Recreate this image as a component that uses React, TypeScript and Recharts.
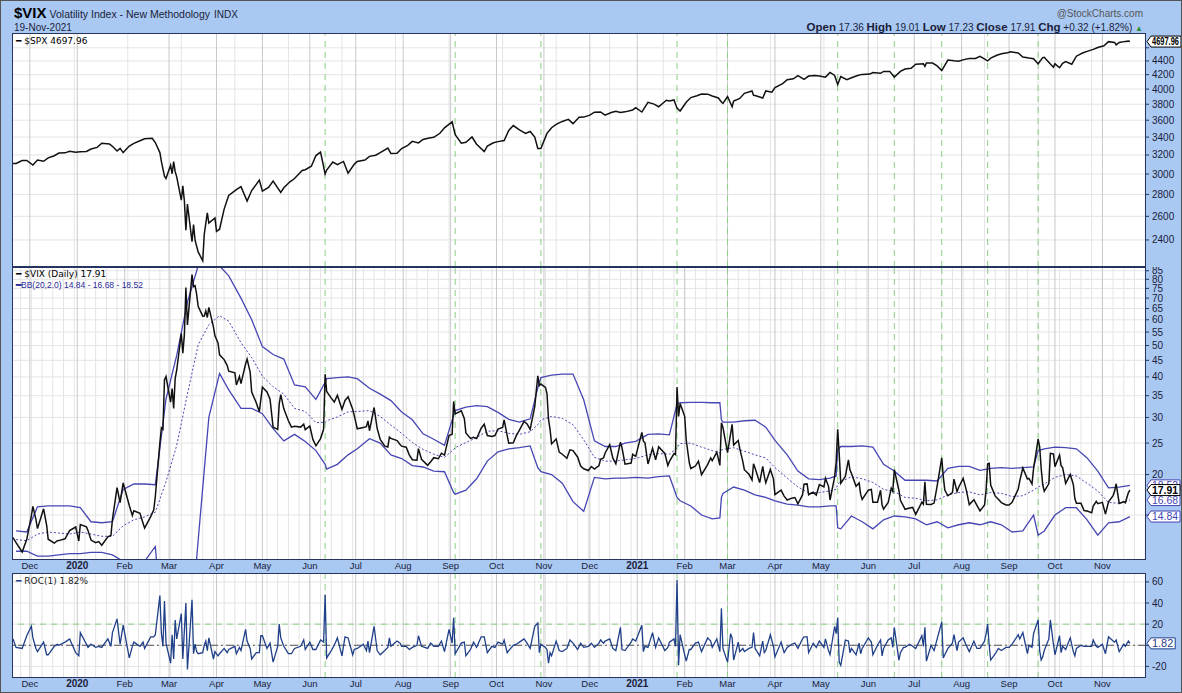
import { CartesianGrid, Line, LineChart, ReferenceLine, XAxis, YAxis } from "recharts";

// ---- data ----

const spxDates = [
  "2019-11-20", "2019-11-22", "2019-11-26", "2019-11-29",
  "2019-12-03", "2019-12-06", "2019-12-10", "2019-12-13", "2019-12-17", "2019-12-20", "2019-12-24", "2019-12-27", "2019-12-31",
  "2020-01-03", "2020-01-07", "2020-01-10", "2020-01-14", "2020-01-17", "2020-01-22", "2020-01-24", "2020-01-27", "2020-01-29", "2020-01-31",
  "2020-02-04", "2020-02-07", "2020-02-11", "2020-02-14", "2020-02-19", "2020-02-21", "2020-02-24", "2020-02-25", "2020-02-27", "2020-02-28",
  "2020-03-02", "2020-03-03", "2020-03-04", "2020-03-05", "2020-03-06", "2020-03-09", "2020-03-10", "2020-03-11", "2020-03-12", "2020-03-13", "2020-03-16", "2020-03-17", "2020-03-18", "2020-03-20", "2020-03-23", "2020-03-24", "2020-03-26", "2020-03-27", "2020-03-31",
  "2020-04-01", "2020-04-03", "2020-04-06", "2020-04-08", "2020-04-09", "2020-04-14", "2020-04-17", "2020-04-21", "2020-04-24", "2020-04-29",
  "2020-05-01", "2020-05-05", "2020-05-08", "2020-05-13", "2020-05-15", "2020-05-19", "2020-05-22", "2020-05-27", "2020-05-29",
  "2020-06-02", "2020-06-05", "2020-06-08", "2020-06-11", "2020-06-12", "2020-06-16", "2020-06-19", "2020-06-23", "2020-06-26", "2020-06-30",
  "2020-07-02", "2020-07-07", "2020-07-10", "2020-07-14", "2020-07-17", "2020-07-22", "2020-07-24", "2020-07-28", "2020-07-31",
  "2020-08-04", "2020-08-07", "2020-08-11", "2020-08-14", "2020-08-18", "2020-08-21", "2020-08-25", "2020-08-28",
  "2020-09-02", "2020-09-04", "2020-09-08", "2020-09-11", "2020-09-15", "2020-09-18", "2020-09-23", "2020-09-25", "2020-09-29",
  "2020-10-02", "2020-10-06", "2020-10-09", "2020-10-12", "2020-10-16", "2020-10-20", "2020-10-23", "2020-10-26", "2020-10-28", "2020-10-30",
  "2020-11-03", "2020-11-06", "2020-11-09", "2020-11-13", "2020-11-17", "2020-11-20", "2020-11-24", "2020-11-27",
  "2020-12-01", "2020-12-04", "2020-12-08", "2020-12-11", "2020-12-15", "2020-12-18", "2020-12-21", "2020-12-24", "2020-12-29", "2020-12-31",
  "2021-01-04", "2021-01-08", "2021-01-12", "2021-01-15", "2021-01-20", "2021-01-22", "2021-01-25", "2021-01-27", "2021-01-29",
  "2021-02-02", "2021-02-05", "2021-02-09", "2021-02-12", "2021-02-16", "2021-02-19", "2021-02-23", "2021-02-25", "2021-02-26",
  "2021-03-01", "2021-03-04", "2021-03-05", "2021-03-09", "2021-03-12", "2021-03-17", "2021-03-18", "2021-03-19", "2021-03-24", "2021-03-26", "2021-03-30",
  "2021-04-01", "2021-04-06", "2021-04-09", "2021-04-13", "2021-04-16", "2021-04-20", "2021-04-23", "2021-04-27", "2021-04-30",
  "2021-05-04", "2021-05-07", "2021-05-10", "2021-05-12", "2021-05-14", "2021-05-18", "2021-05-21", "2021-05-25", "2021-05-28",
  "2021-06-02", "2021-06-04", "2021-06-09", "2021-06-11", "2021-06-15", "2021-06-18", "2021-06-22", "2021-06-25", "2021-06-29",
  "2021-07-02", "2021-07-07", "2021-07-08", "2021-07-09", "2021-07-13", "2021-07-16", "2021-07-19", "2021-07-23", "2021-07-27", "2021-07-30",
  "2021-08-03", "2021-08-06", "2021-08-10", "2021-08-13", "2021-08-18", "2021-08-20", "2021-08-24", "2021-08-27", "2021-08-31",
  "2021-09-02", "2021-09-07", "2021-09-10", "2021-09-14", "2021-09-17", "2021-09-20", "2021-09-23", "2021-09-24", "2021-09-28", "2021-09-30",
  "2021-10-01", "2021-10-04", "2021-10-06", "2021-10-08", "2021-10-12", "2021-10-15", "2021-10-19", "2021-10-22", "2021-10-26", "2021-10-29",
  "2021-11-02", "2021-11-05", "2021-11-09", "2021-11-10", "2021-11-12", "2021-11-16", "2021-11-18", "2021-11-19",
];
const spxClose = [
  3108, 3110, 3140, 3141,
  3093, 3146, 3133, 3169, 3192, 3221, 3223, 3240, 3231,
  3235, 3238, 3265, 3283, 3330, 3321, 3295, 3244, 3273, 3226,
  3298, 3328, 3358, 3380, 3386, 3338, 3226, 3128, 2979, 2954,
  3091, 3003, 3130, 3024, 2972, 2747, 2882, 2741, 2481, 2711, 2386, 2529, 2398, 2305, 2237, 2447, 2630, 2541, 2585,
  2470, 2489, 2664, 2750, 2790, 2846, 2875, 2737, 2837, 2939,
  2831, 2868, 2930, 2820, 2864, 2922, 2955, 3036, 3044,
  3081, 3194, 3232, 3002, 3041, 3125, 3098, 3131, 3009, 3100,
  3130, 3145, 3185, 3197, 3225, 3276, 3216, 3218, 3271,
  3306, 3351, 3333, 3373, 3390, 3397, 3444, 3508,
  3580, 3427, 3331, 3341, 3401, 3319, 3237, 3298, 3335,
  3348, 3361, 3477, 3535, 3484, 3443, 3465, 3401, 3271, 3270,
  3443, 3510, 3550, 3585, 3610, 3558, 3635, 3638,
  3662, 3699, 3702, 3663, 3695, 3709, 3694, 3703, 3727, 3756,
  3701, 3825, 3801, 3768, 3852, 3841, 3855, 3750, 3714,
  3826, 3887, 3911, 3934, 3932, 3907, 3881, 3829, 3811,
  3901, 3768, 3842, 3875, 3943, 3975, 3915, 3913, 3881, 3975, 3959,
  4020, 4074, 4129, 4142, 4185, 4135, 4180, 4187, 4181,
  4165, 4233, 4189, 4063, 4174, 4128, 4156, 4188, 4204,
  4208, 4230, 4220, 4247, 4247, 4166, 4246, 4281, 4291,
  4352, 4358, 4320, 4370, 4369, 4327, 4258, 4412, 4401, 4395,
  4423, 4437, 4436, 4468, 4400, 4442, 4486, 4509, 4523,
  4537, 4520, 4459, 4443, 4433, 4358, 4449, 4455, 4353, 4308,
  4357, 4300, 4364, 4391, 4351, 4471, 4520, 4545, 4575, 4605,
  4631, 4697, 4685, 4646, 4683, 4701, 4705, 4698,
];

const vixDates = [
  "2019-11-20", "2019-11-22", "2019-11-26", "2019-11-29",
  "2019-12-02", "2019-12-03", "2019-12-05", "2019-12-06", "2019-12-10", "2019-12-12", "2019-12-13", "2019-12-17", "2019-12-19", "2019-12-20", "2019-12-24", "2019-12-27", "2019-12-31",
  "2020-01-02", "2020-01-03", "2020-01-07", "2020-01-08", "2020-01-10", "2020-01-13", "2020-01-15", "2020-01-17", "2020-01-21", "2020-01-23", "2020-01-24", "2020-01-27", "2020-01-29", "2020-01-31",
  "2020-02-04", "2020-02-06", "2020-02-07", "2020-02-11", "2020-02-13", "2020-02-14", "2020-02-18", "2020-02-20", "2020-02-21", "2020-02-24", "2020-02-25", "2020-02-26", "2020-02-27", "2020-02-28",
  "2020-03-02", "2020-03-03", "2020-03-04", "2020-03-05", "2020-03-06", "2020-03-09", "2020-03-10", "2020-03-11", "2020-03-12", "2020-03-13", "2020-03-16", "2020-03-17", "2020-03-18", "2020-03-19", "2020-03-20", "2020-03-23", "2020-03-24", "2020-03-25", "2020-03-26", "2020-03-27", "2020-03-30", "2020-03-31",
  "2020-04-02", "2020-04-03", "2020-04-06", "2020-04-08", "2020-04-09", "2020-04-13", "2020-04-14", "2020-04-16", "2020-04-17", "2020-04-20", "2020-04-21", "2020-04-23", "2020-04-24", "2020-04-27", "2020-04-29", "2020-04-30",
  "2020-05-01", "2020-05-04", "2020-05-06", "2020-05-08", "2020-05-11", "2020-05-12", "2020-05-13", "2020-05-15", "2020-05-18", "2020-05-20", "2020-05-22", "2020-05-26", "2020-05-28", "2020-05-29",
  "2020-06-01", "2020-06-03", "2020-06-05", "2020-06-08", "2020-06-10", "2020-06-11", "2020-06-12", "2020-06-15", "2020-06-17", "2020-06-19", "2020-06-22", "2020-06-24", "2020-06-26", "2020-06-29", "2020-06-30",
  "2020-07-02", "2020-07-06", "2020-07-08", "2020-07-09", "2020-07-10", "2020-07-13", "2020-07-15", "2020-07-17", "2020-07-20", "2020-07-22", "2020-07-23", "2020-07-24", "2020-07-28", "2020-07-30", "2020-07-31",
  "2020-08-03", "2020-08-05", "2020-08-07", "2020-08-10", "2020-08-11", "2020-08-13", "2020-08-17", "2020-08-19", "2020-08-21", "2020-08-24", "2020-08-26", "2020-08-28", "2020-08-31",
  "2020-09-02", "2020-09-03", "2020-09-04", "2020-09-08", "2020-09-10", "2020-09-11", "2020-09-14", "2020-09-16", "2020-09-18", "2020-09-21", "2020-09-23", "2020-09-25", "2020-09-28", "2020-09-30",
  "2020-10-02", "2020-10-05", "2020-10-06", "2020-10-08", "2020-10-09", "2020-10-12", "2020-10-14", "2020-10-16", "2020-10-19", "2020-10-21", "2020-10-23", "2020-10-26", "2020-10-28", "2020-10-29", "2020-10-30",
  "2020-11-02", "2020-11-03", "2020-11-04", "2020-11-05", "2020-11-06", "2020-11-09", "2020-11-11", "2020-11-13", "2020-11-16", "2020-11-18", "2020-11-20", "2020-11-23", "2020-11-25", "2020-11-27", "2020-11-30",
  "2020-12-02", "2020-12-04", "2020-12-07", "2020-12-08", "2020-12-10", "2020-12-11", "2020-12-14", "2020-12-16", "2020-12-18", "2020-12-21", "2020-12-22", "2020-12-24", "2020-12-28", "2020-12-29", "2020-12-31",
  "2021-01-04", "2021-01-05", "2021-01-06", "2021-01-08", "2021-01-11", "2021-01-13", "2021-01-15", "2021-01-19", "2021-01-21", "2021-01-22", "2021-01-25", "2021-01-26", "2021-01-27", "2021-01-28", "2021-01-29",
  "2021-02-01", "2021-02-02", "2021-02-04", "2021-02-05", "2021-02-08", "2021-02-10", "2021-02-12", "2021-02-16", "2021-02-18", "2021-02-19", "2021-02-22", "2021-02-24", "2021-02-25", "2021-02-26",
  "2021-03-01", "2021-03-03", "2021-03-04", "2021-03-05", "2021-03-08", "2021-03-09", "2021-03-11", "2021-03-12", "2021-03-15", "2021-03-17", "2021-03-18", "2021-03-19", "2021-03-22", "2021-03-24", "2021-03-25", "2021-03-26", "2021-03-29", "2021-03-31",
  "2021-04-01", "2021-04-05", "2021-04-07", "2021-04-09", "2021-04-12", "2021-04-14", "2021-04-16", "2021-04-19", "2021-04-20", "2021-04-22", "2021-04-23", "2021-04-26", "2021-04-28", "2021-04-30",
  "2021-05-03", "2021-05-04", "2021-05-06", "2021-05-07", "2021-05-10", "2021-05-11", "2021-05-12", "2021-05-13", "2021-05-14", "2021-05-17", "2021-05-19", "2021-05-20", "2021-05-21", "2021-05-24", "2021-05-26", "2021-05-27", "2021-05-28",
  "2021-06-01", "2021-06-03", "2021-06-04", "2021-06-07", "2021-06-09", "2021-06-10", "2021-06-11", "2021-06-14", "2021-06-16", "2021-06-17", "2021-06-18", "2021-06-21", "2021-06-22", "2021-06-24", "2021-06-25", "2021-06-28", "2021-06-30",
  "2021-07-02", "2021-07-06", "2021-07-07", "2021-07-08", "2021-07-09", "2021-07-12", "2021-07-14", "2021-07-16", "2021-07-19", "2021-07-20", "2021-07-21", "2021-07-23", "2021-07-26", "2021-07-27", "2021-07-29", "2021-07-30",
  "2021-08-02", "2021-08-04", "2021-08-06", "2021-08-09", "2021-08-11", "2021-08-13", "2021-08-16", "2021-08-17", "2021-08-18", "2021-08-19", "2021-08-20", "2021-08-23", "2021-08-25", "2021-08-27", "2021-08-30",
  "2021-09-01", "2021-09-03", "2021-09-07", "2021-09-08", "2021-09-10", "2021-09-13", "2021-09-14", "2021-09-16", "2021-09-17", "2021-09-20", "2021-09-21", "2021-09-22", "2021-09-23", "2021-09-24", "2021-09-27", "2021-09-28", "2021-09-30",
  "2021-10-01", "2021-10-04", "2021-10-05", "2021-10-06", "2021-10-08", "2021-10-11", "2021-10-13", "2021-10-14", "2021-10-15", "2021-10-18", "2021-10-20", "2021-10-22", "2021-10-25", "2021-10-26", "2021-10-28", "2021-10-29",
  "2021-11-01", "2021-11-03", "2021-11-05", "2021-11-08", "2021-11-09", "2021-11-10", "2021-11-12", "2021-11-15", "2021-11-16", "2021-11-18", "2021-11-19",
];
const vixClose = [
  12.78, 12.34, 11.54, 12.62,
  14.91, 15.96, 14.52, 13.62, 15.68, 13.94, 12.63, 12.29, 12.5, 12.51, 12.67, 13.43, 13.78,
  12.47, 14.02, 13.79, 13.45, 12.56, 12.32, 12.42, 12.1, 12.85, 12.98, 14.56, 18.23, 16.39, 18.84,
  16.05, 14.96, 15.47, 15.18, 14.15, 13.68, 14.83, 15.56, 17.08, 25.03, 27.85, 27.56, 39.16, 40.11,
  33.42, 36.82, 31.99, 39.62, 41.94, 54.46, 47.3, 53.9, 75.47, 57.83, 82.69, 75.91, 76.45, 72.0, 66.04, 61.59, 61.67, 63.95, 61.0, 65.54, 57.08, 53.54,
  50.91, 46.8, 45.24, 43.35, 41.67, 41.17, 37.76, 40.11, 38.15, 43.83, 45.41, 41.38, 35.93, 33.29, 31.23, 34.15,
  37.19, 35.97, 34.12, 27.98, 27.57, 33.04, 35.28, 31.89, 29.3, 27.99, 28.16, 28.01, 28.59, 27.51,
  28.23, 25.66, 24.52, 25.81, 27.57, 40.79, 36.09, 34.4, 33.47, 35.12, 31.77, 33.84, 34.73, 31.78, 30.43,
  27.68, 27.94, 28.08, 29.26, 27.29, 32.19, 27.76, 25.68, 24.46, 24.32, 26.08, 25.84, 25.44, 24.76, 24.46,
  24.28, 22.99, 22.21, 22.13, 24.03, 22.28, 21.35, 21.9, 22.54, 22.37, 23.27, 22.96, 26.41,
  26.57, 33.6, 30.75, 31.46, 29.71, 26.87, 25.85, 26.04, 25.83, 27.78, 28.58, 26.38, 26.19, 26.37,
  27.63, 27.96, 29.48, 26.36, 25.0, 25.07, 26.4, 27.41, 29.18, 28.65, 27.55, 32.46, 40.28, 37.59, 38.02,
  37.13, 35.55, 29.57, 27.58, 24.86, 25.75, 23.45, 23.1, 22.45, 23.84, 23.7, 22.66, 21.25, 20.84, 20.57,
  21.17, 20.79, 21.3, 22.27, 22.52, 23.31, 24.72, 22.5, 21.57, 25.16, 24.23, 21.53, 21.7, 23.08, 22.75,
  26.97, 25.34, 25.07, 21.56, 24.08, 22.21, 24.34, 23.24, 21.32, 21.91, 23.19, 23.02, 37.21, 30.21, 33.09,
  30.24, 25.56, 21.77, 20.87, 21.24, 21.99, 19.97, 21.46, 22.49, 22.05, 23.45, 21.34, 28.89, 27.95,
  23.35, 26.67, 28.57, 24.66, 25.47, 24.03, 21.91, 20.69, 20.03, 19.23, 21.58, 20.95, 18.88, 21.2, 19.81, 18.86, 20.74, 19.4,
  17.33, 17.91, 17.16, 16.69, 16.91, 16.99, 16.25, 17.3, 18.68, 18.71, 17.33, 17.64, 17.28, 18.61,
  18.31, 19.48, 18.39, 16.69, 19.66, 21.84, 27.59, 23.13, 18.81, 19.72, 22.18, 20.67, 20.15, 18.4, 18.84, 17.36, 16.76,
  17.9, 17.99, 16.42, 16.42, 17.89, 16.1, 15.65, 16.39, 18.15, 17.75, 20.7, 17.89, 16.66, 15.97, 15.62, 15.76, 15.83,
  15.07, 16.44, 16.2, 19.0, 16.18, 16.17, 16.33, 18.45, 22.5, 19.73, 17.91, 17.2, 17.58, 19.36, 17.7, 18.24,
  19.46, 17.97, 16.15, 16.72, 16.06, 15.45, 16.12, 17.91, 21.57, 21.67, 18.56, 17.15, 16.79, 16.39, 16.11,
  16.11, 16.41, 18.03, 19.13, 20.95, 19.37, 19.46, 18.69, 20.81, 25.71, 24.36, 20.87, 18.63, 17.75, 18.76, 23.25, 23.14,
  21.15, 22.96, 21.3, 21.0, 18.77, 20.0, 18.64, 16.86, 16.3, 16.3, 15.49, 15.43, 15.24, 15.98, 16.53, 16.26,
  16.41, 15.1, 16.48, 17.22, 17.78, 18.73, 16.29, 16.49, 16.37, 17.59, 17.91,
];
// daily rate of change of $VIX (%), same dates as vixDates
const rocPct = [
  6, -2, -3, 9,
  18, 7, -3, -6, 3, -9, -9, -1, 1, 0, 3, 6, -7,
  -10, 12, 1, -2, 1, -2, -1, -2, 6, -1, 12, 25, 1, 19,
  -12, -1, 3, -1, 3, -3, 8, 8, 10, 47, 11, -1, 42, 2,
  -17, 10, -13, 24, 6, 30, -13, 14, 40, -23, 43, -8, 1, -6, -8, -7, 0, 4, -5, 7, -13, -6,
  -10, -8, -3, -7, -4, -1, -8, -2, -5, 15, 4, -3, -13, -7, -7, 9,
  9, -3, 2, -16, -1, 20, 7, -1, -8, -8, -3, -1, 5, -4,
  3, -4, -4, 5, 3, 48, -12, -5, 0, 7, -10, 8, 7, -9, -4,
  -3, 1, -5, 4, -7, 18, -5, -9, -5, -2, 7, -1, 4, 2, -1,
  -1, -4, -2, 0, 9, -1, -3, 2, -1, -1, 4, -6, 15,
  2, 26, -8, 2, 3, -10, -4, 3, -2, 8, 8, -7, -1, -2,
  3, 1, 5, -7, -5, 0, 1, 3, 6, 2, -3, 18, 21, -7, 1,
  -2, -4, -17, -7, -10, 4, -5, -6, -3, 5, 2, -4, 2, -2, -1,
  2, -2, 2, 5, 2, 4, 6, -3, -5, 17, -4, -5, 3, 6, 4,
  19, -6, -1, -2, 12, -2, 7, -5, -2, 3, 6, -1, 62, -19, 10,
  -9, -15, -4, -4, 2, 3, -6, 7, 4, -2, 6, -6, 35, -3,
  -16, 11, 7, -14, 3, -6, -3, -6, -3, -2, 12, -3, -10, 4, -7, -5, 10, -1,
  -11, 3, -7, -2, 1, 2, -3, 6, 8, 8, -7, 2, -2, 4,
  -2, 6, -5, -9, 18, 11, 26, -16, -19, 5, 4, -7, -3, -9, 2, -8, -3,
  7, 3, -9, 0, 5, -10, -3, 5, 7, -2, 17, -14, -7, -2, -2, 1, -1,
  -3, 9, -1, 17, -15, 0, -5, 6, 22, -12, -9, -3, 2, 10, -5, 3,
  7, 0, -6, 4, -3, -3, 4, 11, 20, 0, -14, -8, -3, -5, -2,
  -2, 1, 10, 6, 12, -8, 0, -2, 11, 24, -5, -14, -11, -5, 6, 24, 1,
  -9, 9, -7, -1, -4, 7, -6, -10, -3, 0, -1, -1, -1, 5, -1, -2,
  1, -8, 8, 4, 3, 5, -6, 1, -1, 4, 1.82,
];

// Bollinger Bands (20, 2.0); 5 = below the visible axis
const bbDates = [
  "2019-11-22", "2019-11-29", "2019-12-06", "2019-12-13", "2019-12-20", "2019-12-27",
  "2020-01-03", "2020-01-10", "2020-01-17", "2020-01-24", "2020-01-31", "2020-02-07", "2020-02-14", "2020-02-21", "2020-02-28",
  "2020-03-06", "2020-03-13", "2020-03-20", "2020-03-27", "2020-04-03", "2020-04-09", "2020-04-17", "2020-04-24",
  "2020-05-01", "2020-05-08", "2020-05-15", "2020-05-22", "2020-05-29", "2020-06-05", "2020-06-11", "2020-06-12", "2020-06-19", "2020-06-26",
  "2020-07-02", "2020-07-10", "2020-07-17", "2020-07-24", "2020-07-31", "2020-08-07", "2020-08-14", "2020-08-21", "2020-08-28",
  "2020-09-03", "2020-09-04", "2020-09-11", "2020-09-18", "2020-09-25", "2020-10-02", "2020-10-09", "2020-10-16", "2020-10-23", "2020-10-28", "2020-10-30",
  "2020-11-06", "2020-11-13", "2020-11-20", "2020-11-27", "2020-12-04", "2020-12-11", "2020-12-18", "2020-12-24", "2020-12-31",
  "2021-01-08", "2021-01-15", "2021-01-22", "2021-01-27", "2021-01-29", "2021-02-05", "2021-02-12", "2021-02-19", "2021-02-24", "2021-02-25", "2021-02-26",
  "2021-03-05", "2021-03-12", "2021-03-19", "2021-03-26", "2021-04-01", "2021-04-09", "2021-04-16", "2021-04-23", "2021-04-30",
  "2021-05-07", "2021-05-11", "2021-05-12", "2021-05-14", "2021-05-21", "2021-05-28", "2021-06-04", "2021-06-11", "2021-06-18", "2021-06-25",
  "2021-07-02", "2021-07-09", "2021-07-16", "2021-07-23", "2021-07-30", "2021-08-06", "2021-08-13", "2021-08-20", "2021-08-27",
  "2021-09-03", "2021-09-10", "2021-09-17", "2021-09-20", "2021-09-24", "2021-10-01", "2021-10-08", "2021-10-15", "2021-10-22", "2021-10-29",
  "2021-11-05", "2021-11-12", "2021-11-19",
];
const bbUpper = [
  13.4, 13.3, 15.9, 16.0, 16.0, 16.0,
  15.8, 14.3, 14.2, 14.3, 18.0, 18.7, 18.7, 18.6, 34.2,
  46.6, 68.0, 88.0, 95.0, 88.0, 82.0, 70.0, 60.0,
  49.6, 46.9, 45.4, 37.8, 37.3, 34.1, 38.5, 39.5, 39.8, 40.0,
  39.5, 36.9, 35.4, 33.8, 31.2, 29.5, 26.7, 25.7, 24.6,
  30.5, 31.5, 32.3, 32.6, 32.4, 31.1, 29.6, 29.0, 29.7, 37.0, 39.8,
  40.5, 40.8, 40.8, 34.0, 25.4, 24.4, 24.4, 25.0, 25.3,
  26.6, 26.7, 26.5, 33.0, 33.3, 33.4, 33.4, 33.3, 33.3, 29.5, 29.0,
  29.0, 29.3, 29.4, 28.0, 25.5, 23.0, 20.5, 19.4, 19.3,
  19.5, 19.8, 23.8, 24.4, 24.4, 24.5, 24.3, 21.5, 20.5, 19.2,
  19.2, 19.2, 19.1, 20.9, 21.2, 21.2, 20.6, 20.9, 21.0,
  20.9, 21.0, 21.1, 23.7, 24.0, 24.3, 24.2, 24.0, 22.5, 20.5,
  18.2, 18.3, 18.52,
];
const bbMiddle = [
  12.6, 12.5, 13.1, 13.3, 13.2, 13.1,
  13.3, 13.1, 12.9, 12.9, 13.9, 14.5, 14.8, 15.3, 19.0,
  24.6, 35.4, 50.2, 58.0, 61.8, 59.4, 51.0, 45.9,
  40.2, 37.3, 35.4, 32.0, 31.3, 28.9, 29.0, 29.3, 30.1, 31.2,
  31.3, 31.5, 30.2, 28.4, 26.8, 25.1, 23.9, 23.1, 22.6,
  23.9, 24.2, 25.1, 26.0, 27.2, 27.3, 26.8, 26.6, 27.1, 28.5, 29.5,
  30.2, 29.8, 28.5, 25.6, 22.6, 22.0, 22.0, 22.2, 22.4,
  23.0, 23.2, 23.1, 24.2, 24.9, 25.0, 24.3, 23.7, 23.3, 23.8, 23.9,
  24.2, 23.6, 23.0, 22.5, 21.0, 19.5, 18.3, 17.6, 17.6,
  17.8, 18.0, 18.7, 19.0, 19.7, 19.4, 18.9, 18.0, 17.7, 17.0,
  16.9, 16.6, 16.7, 17.3, 17.6, 17.7, 17.3, 17.6, 17.5,
  17.1, 17.2, 17.9, 18.3, 18.7, 19.6, 20.0, 19.8, 18.8, 17.8,
  16.4, 16.3, 16.68,
];
const bbLower = [
  11.6, 11.6, 11.2, 11.2, 11.3, 11.4,
  11.4, 11.5, 11.5, 11.3, 10.8, 10.6, 10.8, 12.0, 5,
  5, 5, 12.5, 30.0, 41.0, 36.5, 32.0, 32.0,
  30.8, 27.7, 25.4, 26.6, 25.3, 23.7, 21.5, 20.8, 21.5, 23.0,
  24.0, 25.8, 25.0, 23.0, 22.4, 21.3, 21.1, 20.5, 20.4,
  17.6, 17.4, 17.9, 19.4, 22.0, 23.5, 24.0, 24.2, 24.5, 21.0, 20.4,
  20.0, 18.8, 16.5, 15.4, 19.6, 19.4, 19.5, 19.5, 19.6,
  19.5, 19.7, 19.8, 17.0, 16.6, 16.0, 15.0, 14.6, 14.7, 17.0, 17.5,
  18.3, 17.9, 17.3, 17.0, 16.6, 16.2, 16.1, 15.9, 15.9,
  16.0, 16.0, 13.7, 13.6, 14.9, 14.3, 13.6, 14.5, 14.9, 14.8,
  14.6, 14.0, 14.3, 13.7, 14.0, 14.2, 14.0, 14.3, 14.0,
  13.3, 13.4, 15.0, 13.0, 13.4, 15.0, 15.8, 15.8, 14.5, 13.0,
  14.2, 14.3, 14.84,
];

const monthTicks = [
  "2019-12-01", "2020-01-01", "2020-02-01", "2020-03-01", "2020-04-01", "2020-05-01", "2020-06-01",
  "2020-07-01", "2020-08-01", "2020-09-01", "2020-10-01", "2020-11-01", "2020-12-01", "2021-01-01",
  "2021-02-01", "2021-03-01", "2021-04-01", "2021-05-01", "2021-06-01", "2021-07-01", "2021-08-01",
  "2021-09-01", "2021-10-01", "2021-11-01",
];
const monthLabels = [
  "Dec", "2020", "Feb", "Mar", "Apr", "May", "Jun", "Jul", "Aug", "Sep", "Oct", "Nov", "Dec", "2021",
  "Feb", "Mar", "Apr", "May", "Jun", "Jul", "Aug", "Sep", "Oct", "Nov",
];
// green dashed event markers
const signalDates = [
  "2020-06-11", "2020-09-04", "2020-10-30", "2021-01-27", "2021-03-01",
  "2021-05-12", "2021-06-18", "2021-07-19", "2021-08-18", "2021-09-20",
];
const spxTicks = [2400, 2600, 2800, 3000, 3200, 3400, 3600, 3800, 4000, 4200, 4400, 4600];
const vixTicks = [15, 20, 25, 30, 35, 40, 45, 50, 55, 60, 65, 70, 75, 80, 85];
const rocTicks = [-20, 0, 20, 40, 60];

// tick labels sitting under a value tag are not printed
const spxHidden = [4600];
const vixHidden = [15];
const rocHidden = [0];

// ---- helpers ----

const toDay = (s: string) =>
  Date.UTC(+s.slice(0, 4), +s.slice(5, 7) - 1, +s.slice(8, 10)) / 86400000;

const START = toDay("2019-11-20");
const X_DOMAIN: [number, number] = [START, START + 740.5];

const spxData = spxDates.map((d, i) => ({ t: toDay(d), v: spxClose[i] }));
const vixData = vixDates.map((d, i) => ({ t: toDay(d), v: vixClose[i] }));
const rocData = vixDates.map((d, i) => ({ t: toDay(d), v: rocPct[i] }));
const bbData = bbDates.map((d, i) => ({
  t: toDay(d),
  up: bbUpper[i],
  mid: bbMiddle[i],
  low: bbLower[i],
}));
const monthT = monthTicks.map(toDay);

const weekGrid: number[] = [];
for (let t = toDay("2019-11-25"); t < X_DOMAIN[1]; t += 7) weekGrid.push(t);

const BG = "#a9c9f3";
const FRAME = "#27345f";
const TXT = "#1b1d3a";
const BB = "#4646b4";
const ROC = "#1f3f88";
const GREEN = "#8cce84";
const NARROW = '"Liberation Sans Narrow", "Arial Narrow", "Liberation Sans", Arial, sans-serif';
const LEG = '"DejaVu Sans", Verdana, sans-serif';

const AXIS_W = 37;
const LEFT = 12;

const yTick = (hidden: number[]) => (props: any) => {
  const { x, y, payload } = props;
  if (hidden.includes(payload.value)) return <g />;
  return (
    <text x={x + 1} y={y + 3.5} fontSize={10} fontFamily={NARROW} fill={TXT}>
      {payload.value}
    </text>
  );
};

const MonthTick = (props: any) => {
  const { x, y, payload } = props;
  const i = monthT.indexOf(payload.value);
  const label = monthLabels[i] ?? "";
  const bold = /^\d{4}$/.test(label);
  return (
    <text
      x={x}
      y={y + 7}
      textAnchor="middle"
      fontSize={bold ? 10 : 9.5}
      fontWeight={bold ? 700 : 400}
      fontFamily={NARROW}
      fill={TXT}
    >
      {label}
    </text>
  );
};

// price tag at the right edge, placed through the y scale of a ReferenceLine
const valueTag =
  (text: string, color: string, bold = false) =>
  (props: any) => {
    const vb = props.viewBox;
    if (!vb) return null;
    const x = vb.x + vb.width + 1;
    const y = vb.y;
    const w = Math.min(text.length * 4.8 + 9, 1180 - x);
    const h = 11;
    return (
      <g>
        <path
          d={`M${x},${y} L${x + 4},${y - h / 2} L${x + w},${y - h / 2} L${x + w},${y + h / 2} L${x + 4},${y + h / 2} Z`}
          fill="#fff"
          stroke={color}
          strokeWidth={1}
        />
        <text
          x={x + 5}
          y={y + 3.8}
          fontSize={10}
          fontWeight={bold ? 700 : 400}
          fontFamily={NARROW}
          fill={color}
          textLength={w - 7}
          lengthAdjust="spacingAndGlyphs"
        >
          {text}
        </text>
      </g>
    );
  };

function Grids({ yTicks }: { yTicks: number[] }) {
  return (
    <>
      <CartesianGrid
        fill="#fff"
        stroke="#e4e4e4"
        verticalValues={weekGrid}
        horizontalValues={yTicks}
      />
      <CartesianGrid stroke="#c9c9c9" horizontal={false} verticalValues={monthT} />
    </>
  );
}

const signals = signalDates.map((d) => (
  <ReferenceLine key={d} x={toDay(d)} stroke={GREEN} strokeDasharray="6 5" strokeWidth={1} />
));

const Frame = ({ top, height, thickTop }: { top: number; height: number; thickTop?: boolean }) => (
  <div
    style={{
      position: "absolute",
      left: LEFT - 1,
      top: top - 1,
      width: 1182 - AXIS_W - LEFT + 1,
      height: height + 1,
      borderLeft: `1px solid ${FRAME}`,
      borderRight: `1px solid ${FRAME}`,
      borderBottom: `1px solid ${FRAME}`,
      borderTop: `${thickTop ? 2 : 1}px solid ${FRAME}`,
      boxSizing: "border-box",
      pointerEvents: "none",
    }}
  />
);

export default function App() {
  return (
    <div
      style={{
        position: "absolute",
        left: 0,
        top: 0,
        width: 1182,
        height: 693,
        background: BG,
        border: "1px solid #555",
        boxSizing: "border-box",
        overflow: "hidden",
        fontFamily: NARROW,
        color: TXT,
      }}
    >
      {/* header */}
      <div style={{ position: "absolute", left: 13, top: 5, whiteSpace: "nowrap", lineHeight: "14px" }}>
        <span style={{ fontSize: 15, fontWeight: 700, color: "#000" }}>$VIX</span>
        <span style={{ fontSize: 10.5, marginLeft: 3 }}>Volatility Index - New Methodology</span>
        <span style={{ fontSize: 10, marginLeft: 4 }}>INDX</span>
      </div>
      <div style={{ position: "absolute", left: 13, top: 21, fontSize: 10 }}>19-Nov-2021</div>
      <div style={{ position: "absolute", right: 38, top: 7, fontSize: 10, color: "#555" }}>
        @StockCharts.com
      </div>
      <div style={{ position: "absolute", right: 38, top: 20, fontSize: 10, whiteSpace: "nowrap" }}>
        <b style={{ fontSize: 11.5 }}>Open</b> 17.36 <b style={{ fontSize: 11.5 }}>High</b> 19.01{" "}
        <b style={{ fontSize: 11.5 }}>Low</b> 17.23 <b style={{ fontSize: 11.5 }}>Close</b> 17.91{" "}
        <b style={{ fontSize: 11.5 }}>Chg</b> +0.32 (+1.82%) <span style={{ color: "#2e8b3a", fontSize: 8 }}>▲</span>
      </div>

      {/* $SPX panel */}
      <div style={{ position: "absolute", left: 0, top: 33 }}>
        <LineChart width={1182} height={233} margin={{ top: 0, right: 0, bottom: 0, left: LEFT }}>
          <Grids yTicks={spxTicks} />
          <XAxis dataKey="t" type="number" domain={X_DOMAIN} allowDataOverflow hide />
          <YAxis
            orientation="right"
            width={AXIS_W}
            scale="log"
            domain={[2190, 4820]}
            allowDataOverflow
            ticks={spxTicks}
            interval={0}
            tick={yTick(spxHidden)}
            tickSize={3}
            tickLine={{ stroke: FRAME }}
            axisLine={false}
          />
          {signals}
          <Line data={spxData} dataKey="v" stroke="#111" strokeWidth={1.5} dot={false} isAnimationActive={false} />
          <ReferenceLine y={4697.96} stroke="none" label={valueTag("4697.96", "#000", true)} />
        </LineChart>
      </div>

      {/* $VIX + BB panel */}
      <div style={{ position: "absolute", left: 0, top: 266 }}>
        <LineChart width={1182} height={306} margin={{ top: 0, right: 0, bottom: 0, left: LEFT }}>
          <Grids yTicks={vixTicks} />
          <XAxis
            dataKey="t"
            type="number"
            domain={X_DOMAIN}
            allowDataOverflow
            ticks={monthT}
            interval={0}
            tick={MonthTick}
            tickLine={false}
            tickSize={0}
            axisLine={false}
            height={13}
          />
          <YAxis
            orientation="right"
            width={AXIS_W}
            scale="log"
            domain={[10.9, 87.3]}
            allowDataOverflow
            ticks={vixTicks}
            interval={0}
            tick={yTick(vixHidden)}
            tickSize={3}
            tickLine={{ stroke: FRAME }}
            axisLine={false}
          />
          {signals}
          <Line data={bbData} dataKey="up" stroke={BB} strokeWidth={1.3} dot={false} isAnimationActive={false} />
          <Line data={bbData} dataKey="low" stroke={BB} strokeWidth={1.3} dot={false} isAnimationActive={false} />
          <Line
            data={bbData}
            dataKey="mid"
            stroke={BB}
            strokeWidth={1}
            strokeDasharray="2 2"
            dot={false}
            isAnimationActive={false}
          />
          <Line data={vixData} dataKey="v" stroke="#111" strokeWidth={1.5} dot={false} isAnimationActive={false} />
          <ReferenceLine y={18.52} stroke="none" label={valueTag("18.52", BB)} />
          <ReferenceLine y={16.68} stroke="none" label={valueTag("16.68", BB)} />
          <ReferenceLine y={14.84} stroke="none" label={valueTag("14.84", BB)} />
          <ReferenceLine y={17.91} stroke="none" label={valueTag("17.91", "#000", true)} />
        </LineChart>
      </div>

      {/* ROC panel */}
      <div style={{ position: "absolute", left: 0, top: 572 }}>
        <LineChart width={1182} height={119} margin={{ top: 1, right: 0, bottom: 0, left: LEFT }}>
          <Grids yTicks={rocTicks} />
          <XAxis
            dataKey="t"
            type="number"
            domain={X_DOMAIN}
            allowDataOverflow
            ticks={monthT}
            interval={0}
            tick={MonthTick}
            tickLine={false}
            tickSize={0}
            axisLine={false}
            height={14}
          />
          <YAxis
            orientation="right"
            width={AXIS_W}
            domain={[-31, 67.5]}
            allowDataOverflow
            ticks={rocTicks}
            interval={0}
            tick={yTick(rocHidden)}
            tickSize={3}
            tickLine={{ stroke: FRAME }}
            axisLine={false}
          />
          {signals}
          <ReferenceLine y={20} stroke={GREEN} strokeDasharray="6 5" />
          <ReferenceLine y={0} stroke="#555" strokeDasharray="8 3 2 3" />
          <Line data={rocData} dataKey="v" stroke={ROC} strokeWidth={1.3} dot={false} isAnimationActive={false} />
          <ReferenceLine y={1.82} stroke="none" label={valueTag("1.82", ROC)} />
        </LineChart>
      </div>

      <Frame top={33} height={233} />
      <Frame top={266} height={293} thickTop />
      <Frame top={573} height={104} />

      {/* legends */}
      <div style={{ position: "absolute", left: 15, top: 35, fontSize: 9, fontFamily: LEG, color: "#000" }}>
        <b>━</b> $SPX 4697.96
      </div>
      <div style={{ position: "absolute", left: 15, top: 268, fontSize: 9, fontFamily: LEG, color: "#000" }}>
        <b>━</b> $VIX (Daily) 17.91
      </div>
      <div style={{ position: "absolute", left: 15, top: 279, fontSize: 8.5, fontFamily: NARROW, color: "#2a2a9a" }}>
        <b>━</b>BB(20,2.0) 14.84 - 16.68 - 18.52
      </div>
      <div style={{ position: "absolute", left: 15, top: 575, fontSize: 9, fontFamily: LEG, color: ROC }}>
        <b>━</b> <span style={{ color: "#222" }}>ROC(1) 1.82%</span>
      </div>
    </div>
  );
}
